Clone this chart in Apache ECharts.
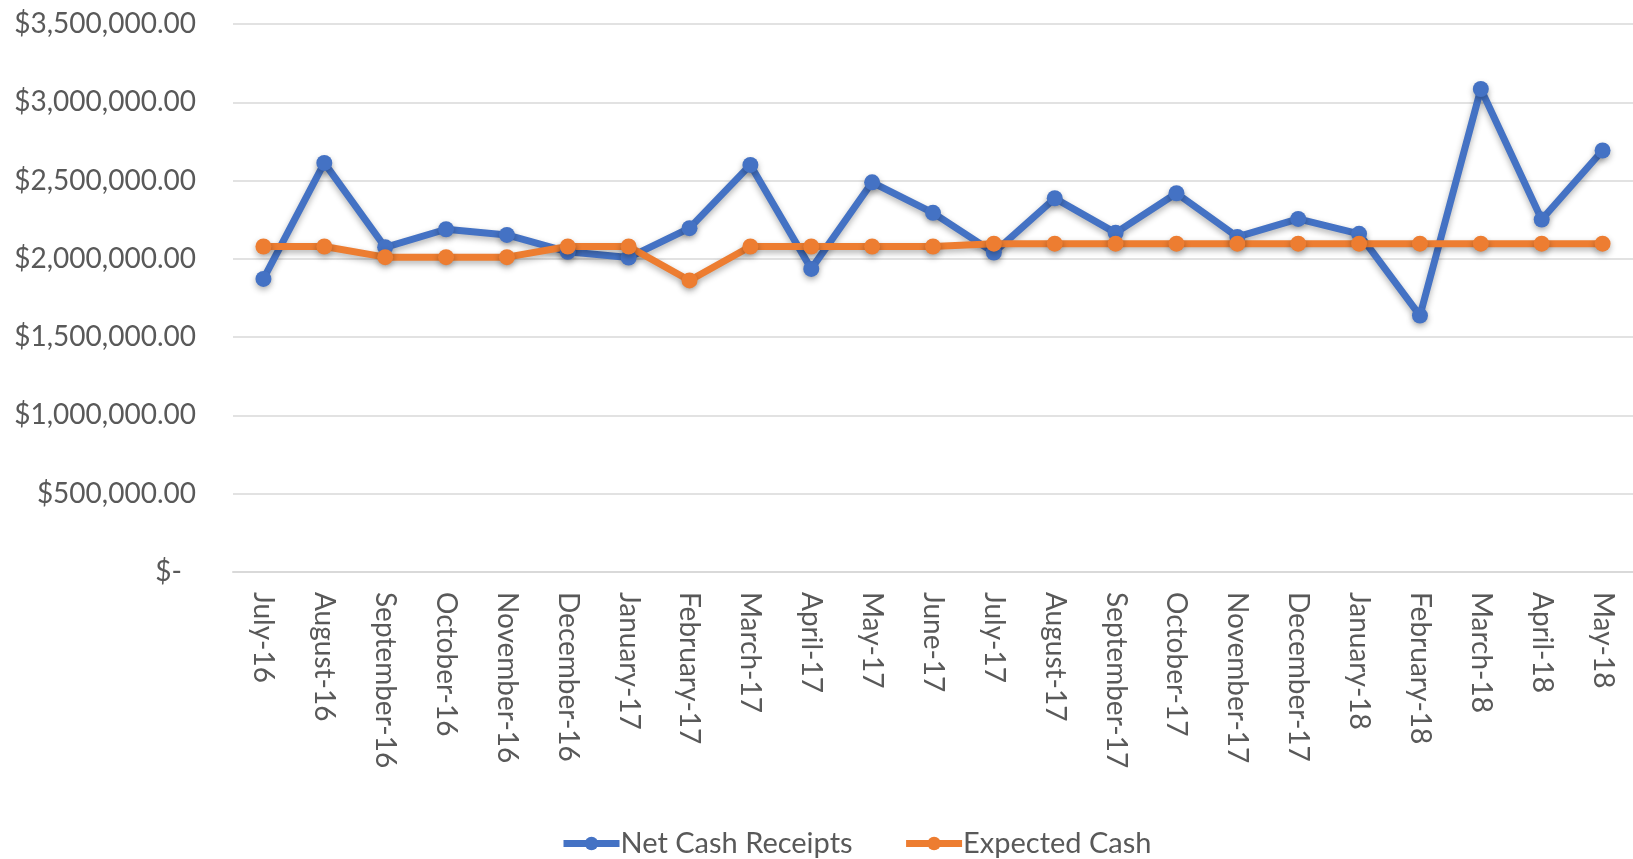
<!DOCTYPE html>
<html>
<head>
<meta charset="utf-8">
<title>Net Cash Receipts</title>
<script src="https://cdn.jsdelivr.net/npm/echarts@6/dist/echarts.min.js"></script>
<style>
    html, body { margin: 0; padding: 0; background: #fff; }
    #chart { width: 1633px; height: 859px; }
</style>
</head>
<body>
<div id="chart"></div>
<script>
// 月份
var months = ['July-16', 'August-16', 'September-16', 'October-16', 'November-16', 'December-16',
    'January-17', 'February-17', 'March-17', 'April-17', 'May-17', 'June-17', 'July-17',
    'August-17', 'September-17', 'October-17', 'November-17', 'December-17', 'January-18',
    'February-18', 'March-18', 'April-18', 'May-18'];
// 实际现金收入
var netCash = [1872000, 2613000, 2074000, 2189000, 2153000, 2045000, 2008000, 2196000, 2600000,
    1936000, 2489000, 2294000, 2040000, 2387000, 2166000, 2419000, 2140000, 2255000, 2160000,
    1638000, 3085000, 2251000, 2692000];
// 预期现金
var expectedCash = [2079000, 2079000, 2011000, 2011000, 2011000, 2079000, 2079000, 1862000, 2079000,
    2079000, 2079000, 2079000, 2097000, 2097000, 2097000, 2097000, 2097000, 2097000, 2097000,
    2097000, 2097000, 2097000, 2097000];
// y轴刻度
var yMin = 0, yMax = 3500000, yStep = 500000;

var textColor = '#595959';
var font = 'Lato, "Liberation Sans", sans-serif';

function money(v) {
    if (v == 0) return '{z|$-}';
    return '$' + v.toFixed(2).replace(/\B(?=(\d{3})+(?!\d))/g, ',');
}

// 线条样式, 带一点阴影
function lineOf(color) {
    return { width: 7, color: color, shadowColor: 'rgba(0,0,0,0.3)', shadowBlur: 6, shadowOffsetY: 3 };
}

var chart = echarts.init(document.getElementById('chart'));
chart.setOption({
    animation: false,
    grid: {
        left: 233,
        top: 24,
        width: 1410,
        height: 548
    },
    legend: {
        top: 824,
        left: 555,
        itemWidth: 56,
        itemHeight: 17,
        itemGap: 50,
        lineStyle: { width: 7 },
        textStyle: { color: textColor, fontSize: 29, fontFamily: font, padding: [0, 0, 0, -4] },
        data: ['Net Cash Receipts', 'Expected Cash']
    },
    xAxis: {
        type: 'category',
        data: months,
        boundaryGap: true,
        axisLine: { lineStyle: { color: '#d9d9d9', width: 2 } },
        axisTick: { show: false },
        axisLabel: {
            rotate: -90,
            interval: 0,
            margin: 20,
            color: textColor,
            fontSize: 28,
            fontFamily: font
        }
    },
    yAxis: {
        type: 'value',
        min: yMin,
        max: yMax,
        interval: yStep,
        axisLine: { show: false },
        axisTick: { show: false },
        splitLine: { lineStyle: { color: '#d9d9d9', width: 1.5 } },
        axisLabel: {
            margin: 37,
            color: textColor,
            fontSize: 28,
            fontFamily: font,
            formatter: money,
            rich: {
                z: { color: textColor, fontSize: 28, fontFamily: font, padding: [0, 14, 0, 0] }
            }
        }
    },
    series: [{
        name: 'Net Cash Receipts',
        type: 'line',
        data: netCash,
        symbol: 'circle',
        symbolSize: 16,
        color: '#4472C4',
        lineStyle: lineOf('#4472C4'),
        itemStyle: { color: '#4472C4', shadowColor: 'rgba(0,0,0,0.3)', shadowBlur: 6, shadowOffsetY: 3 }
    }, {
        name: 'Expected Cash',
        type: 'line',
        data: expectedCash,
        symbol: 'circle',
        symbolSize: 16,
        color: '#ED7D31',
        lineStyle: lineOf('#ED7D31'),
        itemStyle: { color: '#ED7D31', shadowColor: 'rgba(0,0,0,0.3)', shadowBlur: 6, shadowOffsetY: 3 }
    }]
});
</script>
</body>
</html>
